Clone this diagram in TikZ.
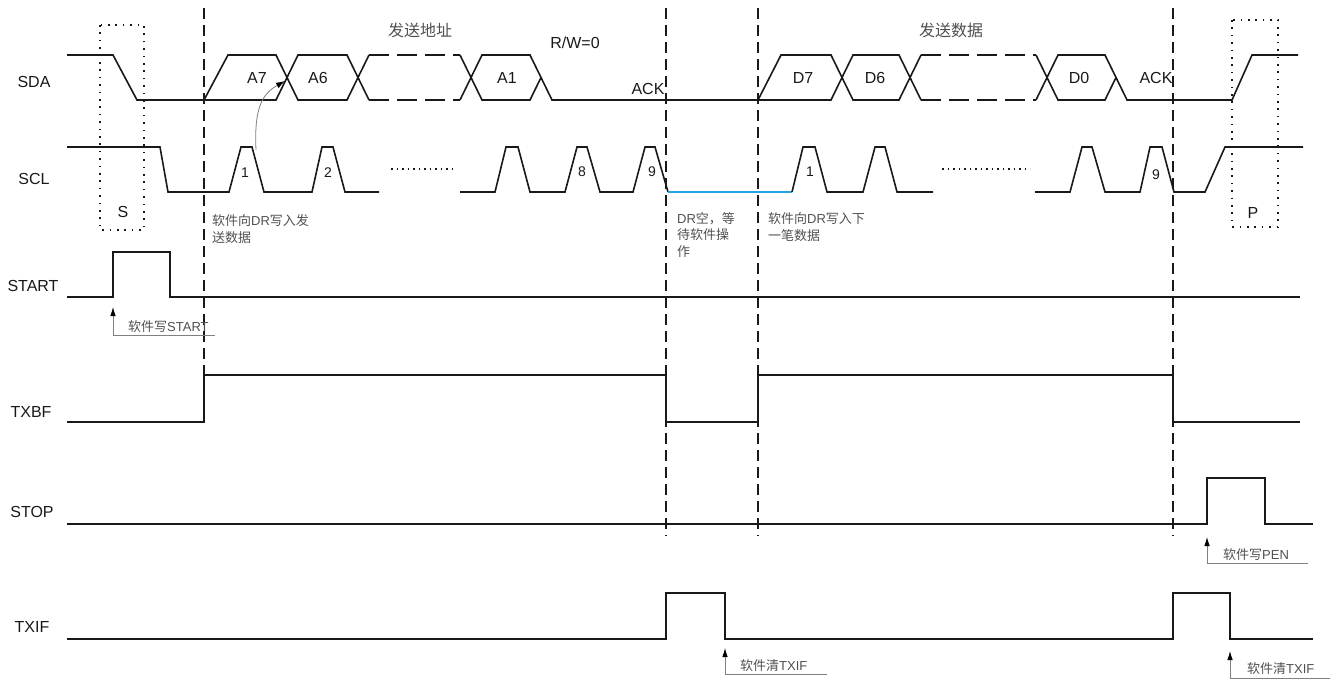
\documentclass[tikz,border=0pt]{standalone}
\usepackage{fontspec}
\setmainfont{Liberation Sans}
\newfontfamily\cjk{Noto Sans CJK SC}
\usetikzlibrary{arrows.meta}
\definecolor{sig}{RGB}{25,25,25}
\definecolor{notegray}{RGB}{80,80,80}
\definecolor{waitblue}{RGB}{40,160,225}
\tikzset{
  wave/.style={line width=1.6pt, draw=sig, line join=miter},
  dashwave/.style={wave, dash pattern=on 20pt off 8pt},
  guide/.style={line width=1.3pt, draw=sig, dash pattern=on 11pt off 6pt},
  dotbox/.style={line width=1.4pt, draw=sig, dash pattern=on 1.6pt off 5.8pt},
  dotline/.style={line width=1.3pt, draw=sig, dash pattern=on 1.5pt off 4pt},
  siglabel/.style={font=\fontsize{16}{19}\selectfont, text=sig, inner sep=0pt},
  bitlabel/.style={font=\fontsize{14}{17}\selectfont, text=sig, inner sep=0pt},
  notetext/.style={font=\fontsize{13}{16}\selectfont, text=notegray, inner sep=0pt, anchor=base west},
  titletext/.style={font=\cjk\fontsize{16}{19}\selectfont, text=notegray, inner sep=0pt},
  callout/.style={line width=0.8pt, draw=gray, -{Latex[color=black,length=9pt,width=5.5pt]}},
}
\begin{document}
\begin{tikzpicture}[x=1pt,y=-1pt]
\useasboundingbox (0,0) rectangle (1337,680);

% ---------- signal names ----------
\node[siglabel] (lSDA) at (34,82) {SDA};
\node[siglabel] (lSCL) at (34,179) {SCL};
\node[siglabel] (lSTART) at (33,286) {START};
\node[siglabel] (lTXBF) at (31,412) {TXBF};
\node[siglabel] (lSTOP) at (32,512) {STOP};
\node[siglabel] (lTXIF) at (32,627) {TXIF};

% ---------- guides ----------
\coordinate (g1t) at (204,8);  \coordinate (g1b) at (204,375);
\coordinate (g2t) at (666,8);  \coordinate (g2b) at (666,536);
\coordinate (g3t) at (758,8);  \coordinate (g3b) at (758,536);
\coordinate (g4t) at (1173,8); \coordinate (g4b) at (1173,536);
\draw[guide] (g1t) -- (g1b);
\draw[guide] (g2t) -- (g2b);
\draw[guide] (g3t) -- (g3b);
\draw[guide] (g4t) -- (g4b);

% ---------- dotted S / P boxes ----------
\draw[dotbox] (100,25) rectangle (144,230);
\draw[dotbox] (1232,20) rectangle (1278,227);
\node[siglabel] (sS) at (123,212) {S};
\node[siglabel] (sP) at (1253,213) {P};

% ---------- SDA ----------
\draw[wave] (67,55) -- (113,55) -- (137,100) -- (204,100) -- (276,100) -- (298,55) -- (347,55) -- (369,100);
\draw[wave] (204,100) -- (228,55) -- (276,55) -- (298,100) -- (347,100) -- (369,55);
\draw[dashwave] (369,55) -- (460,55);
\draw[dashwave] (369,100) -- (460,100);
\draw[wave] (460,55) -- (482,100) -- (530,100) -- (541,77.5);
\draw[wave] (460,100) -- (482,55) -- (530,55) -- (552,100) -- (758,100) -- (831,100) -- (853,55) -- (899,55) -- (921,100);
\draw[wave] (758,100) -- (781,55) -- (831,55) -- (853,100) -- (899,100) -- (921,55);
\draw[dashwave] (921,55) -- (1036,55);
\draw[dashwave] (921,100) -- (1036,100);
\draw[wave] (1036,55) -- (1058,100) -- (1105,100) -- (1116,77.5);
\draw[wave] (1036,100) -- (1058,55) -- (1105,55) -- (1127,100) -- (1232,100) -- (1252,55) -- (1298,55);

\node[siglabel] (bA7) at (257,78) {A7};
\node[siglabel] (bA6) at (318,78) {A6};
\node[siglabel] (bA1) at (507,78) {A1};
\node[siglabel] (bD7) at (803,78) {D7};
\node[siglabel] (bD6) at (875,78) {D6};
\node[siglabel] (bD0) at (1079,78) {D0};
\node[siglabel] (ack1) at (648,89) {ACK};
\node[siglabel] (ack2) at (1156,78) {ACK};
\node[siglabel] (rw) at (575,43) {R/W=0};
\node[titletext] (tAddr) at (420,30) {发送地址};
\node[titletext] (tData) at (951,30) {发送数据};

% ---------- SCL ----------
\draw[wave] (67,147) -- (160,147) -- (168,192) -- (229,192) -- (241,147) -- (252,147) -- (264,192)
  -- (312,192) -- (322,147) -- (333,147) -- (345,192) -- (379,192);
\draw[dotline] (391,169) -- (456,169);
\draw[wave] (460,192) -- (495,192) -- (506,147) -- (518,147) -- (530,192) -- (565,192) -- (577,147)
  -- (587,147) -- (600,192) -- (633,192) -- (645,147) -- (655,147) -- (668,192);
\draw[line width=1.6pt, draw=waitblue] (668,192) -- (792,192);
\draw[wave] (792,192) -- (803,147) -- (815,147) -- (827,192) -- (863,192) -- (875,147) -- (885,147)
  -- (897,192) -- (933,192);
\draw[dotline] (942,169) -- (1030,169);
\draw[wave] (1035,192) -- (1070,192) -- (1082,147) -- (1092,147) -- (1105,192) -- (1140,192)
  -- (1150,147) -- (1162,147) -- (1174,192) -- (1205,192) -- (1225,147) -- (1303,147);

\node[bitlabel] (n1) at (245,173) {1};
\node[bitlabel] (n2) at (328,173) {2};
\node[bitlabel] (n8) at (582,172) {8};
\node[bitlabel] (n9) at (652,172) {9};
\node[bitlabel] (m1) at (810,172) {1};
\node[bitlabel] (m9) at (1156,175) {9};

% curved arrow from SCL pulse 1 to A7/A6 crossing
\coordinate (cvS) at (256,150);
\coordinate (cvE) at (285,81);
\draw[line width=0.8pt, draw=gray, -{Latex[color=black,length=9pt,width=6pt]}]
  (cvS) .. controls (254,108) and (262,94) .. (cvE);

% ---------- notes ----------
\node[notetext] (na1) at (212,225) {{\cjk 软件向}DR{\cjk 写入发}};
\node[notetext] (na2) at (212,242) {\cjk 送数据};
\node[notetext] (nb1) at (677,223) {DR{\cjk 空，等}};
\node[notetext] (nb2) at (677,239) {\cjk 待软件操};
\node[notetext] (nb3) at (677,256) {\cjk 作};
\node[notetext] (nc1) at (768,223) {{\cjk 软件向}DR{\cjk 写入下}};
\node[notetext] (nc2) at (768,240) {\cjk 一笔数据};

% ---------- START ----------
\draw[wave] (67,297) -- (113,297) -- (113,252) -- (170,252) -- (170,297) -- (1300,297);
\coordinate (csE) at (215,335); \coordinate (csC) at (113,335); \coordinate (csT) at (113,307);
\draw[callout] (csE) -- (csC) -- (csT);
\node[notetext] (ns) at (128,331) {{\cjk 软件写}START};

% ---------- TXBF ----------
\draw[wave] (67,422) -- (204,422) -- (204,375) -- (666,375) -- (666,422) -- (758,422) -- (758,375)
  -- (1173,375) -- (1173,422) -- (1300,422);

% ---------- STOP ----------
\draw[wave] (67,524) -- (1207,524) -- (1207,478) -- (1265,478) -- (1265,524) -- (1313,524);
\coordinate (cpE) at (1308,563); \coordinate (cpC) at (1207,563); \coordinate (cpT) at (1207,537);
\draw[callout] (cpE) -- (cpC) -- (cpT);
\node[notetext] (np) at (1223,559) {{\cjk 软件写}PEN};

% ---------- TXIF ----------
\draw[wave] (67,639) -- (666,639) -- (666,593) -- (725,593) -- (725,639) -- (1173,639) -- (1173,593)
  -- (1230,593) -- (1230,639) -- (1313,639);
\coordinate (ct1E) at (827,674); \coordinate (ct1C) at (725,674); \coordinate (ct1T) at (725,648);
\draw[callout] (ct1E) -- (ct1C) -- (ct1T);
\node[notetext] (nt1) at (740,670) {{\cjk 软件清}TXIF};
\coordinate (ct2E) at (1330,678); \coordinate (ct2C) at (1230,678); \coordinate (ct2T) at (1230,651);
\draw[callout] (ct2E) -- (ct2C) -- (ct2T);
\node[notetext] (nt2) at (1247,673) {{\cjk 软件清}TXIF};
\end{tikzpicture}
\end{document}
